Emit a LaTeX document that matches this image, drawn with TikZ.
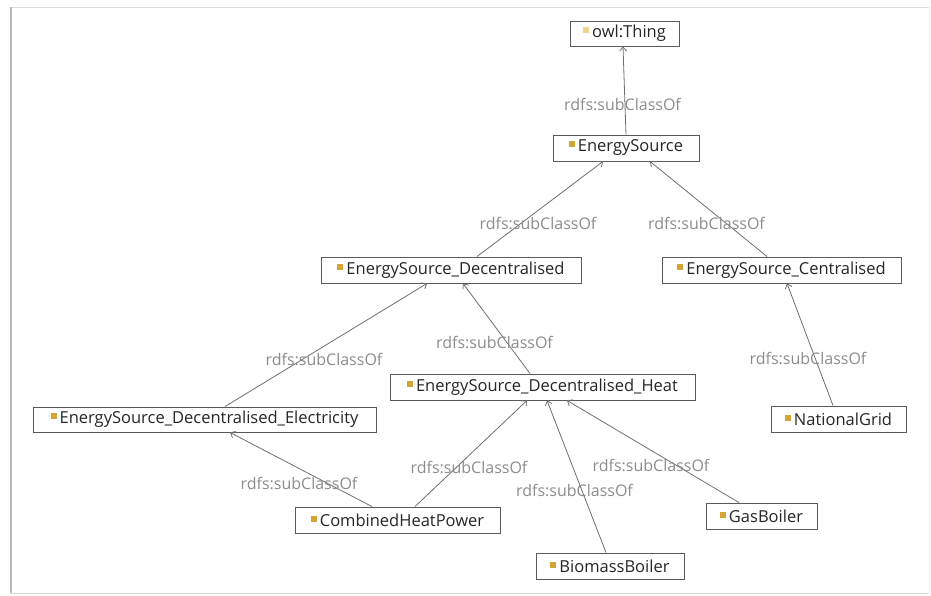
\documentclass[tikz,border=0pt]{standalone}
\usepackage{fontspec}
\setmainfont{Open Sans}
\usetikzlibrary{arrows.meta}
\definecolor{bulletgold}{HTML}{D4A536}
\definecolor{bulletpale}{HTML}{EBD58E}
\definecolor{boxline}{HTML}{5A5A5A}
\definecolor{edgeline}{HTML}{6E6E6E}
\definecolor{edgetext}{HTML}{8C8C8C}
\newcommand{\classdot}[1]{\textcolor{#1}{\rule[4.5pt]{6pt}{6pt}}\hspace{3pt}}
\tikzset{
  cls/.style={draw=boxline, line width=0.9pt, fill=white, rectangle,
    minimum height=25pt, inner sep=0pt, font=\fontsize{16.5}{18}\selectfont,
    text=black!85},
  subof/.style={draw=edgeline, line width=0.8pt,
    -{Straight Barb[length=4pt,width=7pt]}},
  rel/.style={midway, yshift=-14pt, xshift=-2pt, text=edgetext,
    font=\fontsize{16}{18}\selectfont, inner sep=0pt}
}
\begin{document}
\begin{tikzpicture}[x=1pt,y=-1pt]
  \useasboundingbox (0,0) rectangle (931,596);
  % window frame
  \draw[gray!25, line width=1pt] (11,7.5) -- (929,7.5);
  \draw[gray!12, line width=1pt] (929,7.5) -- (929,593);
  \draw[gray!30, line width=1pt] (11,593) -- (929,593);
  \draw[gray!55, line width=1.6pt] (11,7.5) -- (11,593);

  % classes
  \node[cls, minimum width=109pt] (thing) at (624.5,33.5) {\classdot{bulletpale}owl:Thing};
  \node[cls, minimum width=146pt, minimum height=26pt] (es) at (626,148) {\classdot{bulletgold}EnergySource};
  \node[cls, minimum width=260pt, minimum height=26pt] (dec) at (451,270) {\classdot{bulletgold}EnergySource\_Decentralised};
  \node[cls, minimum width=239pt, minimum height=26pt] (cen) at (781.5,270) {\classdot{bulletgold}EnergySource\_Centralised};
  \node[cls, minimum width=343pt] (elec) at (204.5,419.5) {\classdot{bulletgold}EnergySource\_Decentralised\_Electricity};
  \node[cls, minimum width=305pt, minimum height=26pt] (heat) at (542.5,387) {\classdot{bulletgold}EnergySource\_Decentralised\_Heat};
  \node[cls, minimum width=135pt, minimum height=26pt] (ng) at (838.5,419) {\classdot{bulletgold}NationalGrid};
  \node[cls, minimum width=205pt, minimum height=26pt] (chp) at (397.5,520) {\classdot{bulletgold}CombinedHeatPower};
  \node[cls, minimum width=111pt, minimum height=26pt] (gas) at (761.5,516) {\classdot{bulletgold}GasBoiler};
  \node[cls, minimum width=148pt, minimum height=26pt] (bio) at (610,566) {\classdot{bulletgold}BiomassBoiler};

  % subclass relations
  \draw[subof] (es.north) -- ([xshift=-1.5pt]thing.south) node[rel] {rdfs:subClassOf};
  \draw[subof] ([xshift=26pt]dec.north) -- ([xshift=-23pt]es.south) node[rel] {rdfs:subClassOf};
  \draw[subof] ([xshift=-14.5pt]cen.north) -- ([xshift=24pt]es.south) node[rel] {rdfs:subClassOf};
  \draw[subof] ([xshift=20.5pt]elec.north) -- ([xshift=-24pt]dec.south) node[rel] {rdfs:subClassOf};
  \draw[subof] ([xshift=-12.5pt]heat.north) -- ([xshift=12pt]dec.south) node[rel] {rdfs:subClassOf};
  \draw[subof] ([xshift=-5.5pt]ng.north) -- ([xshift=5.5pt]cen.south) node[rel] {rdfs:subClassOf};
  \draw[subof] ([xshift=-25.5pt]chp.north) -- ([xshift=25.5pt]elec.south) node[rel] {rdfs:subClassOf};
  \draw[subof] ([xshift=17.5pt]chp.north) -- ([xshift=-15.5pt]heat.south) node[rel] {rdfs:subClassOf};
  \draw[subof] ([xshift=-4pt]bio.north) -- ([xshift=4.5pt]heat.south) node[rel] {rdfs:subClassOf};
  \draw[subof] ([xshift=-22.5pt]gas.north) -- ([xshift=24.5pt]heat.south) node[rel] {rdfs:subClassOf};
\end{tikzpicture}
\end{document}
